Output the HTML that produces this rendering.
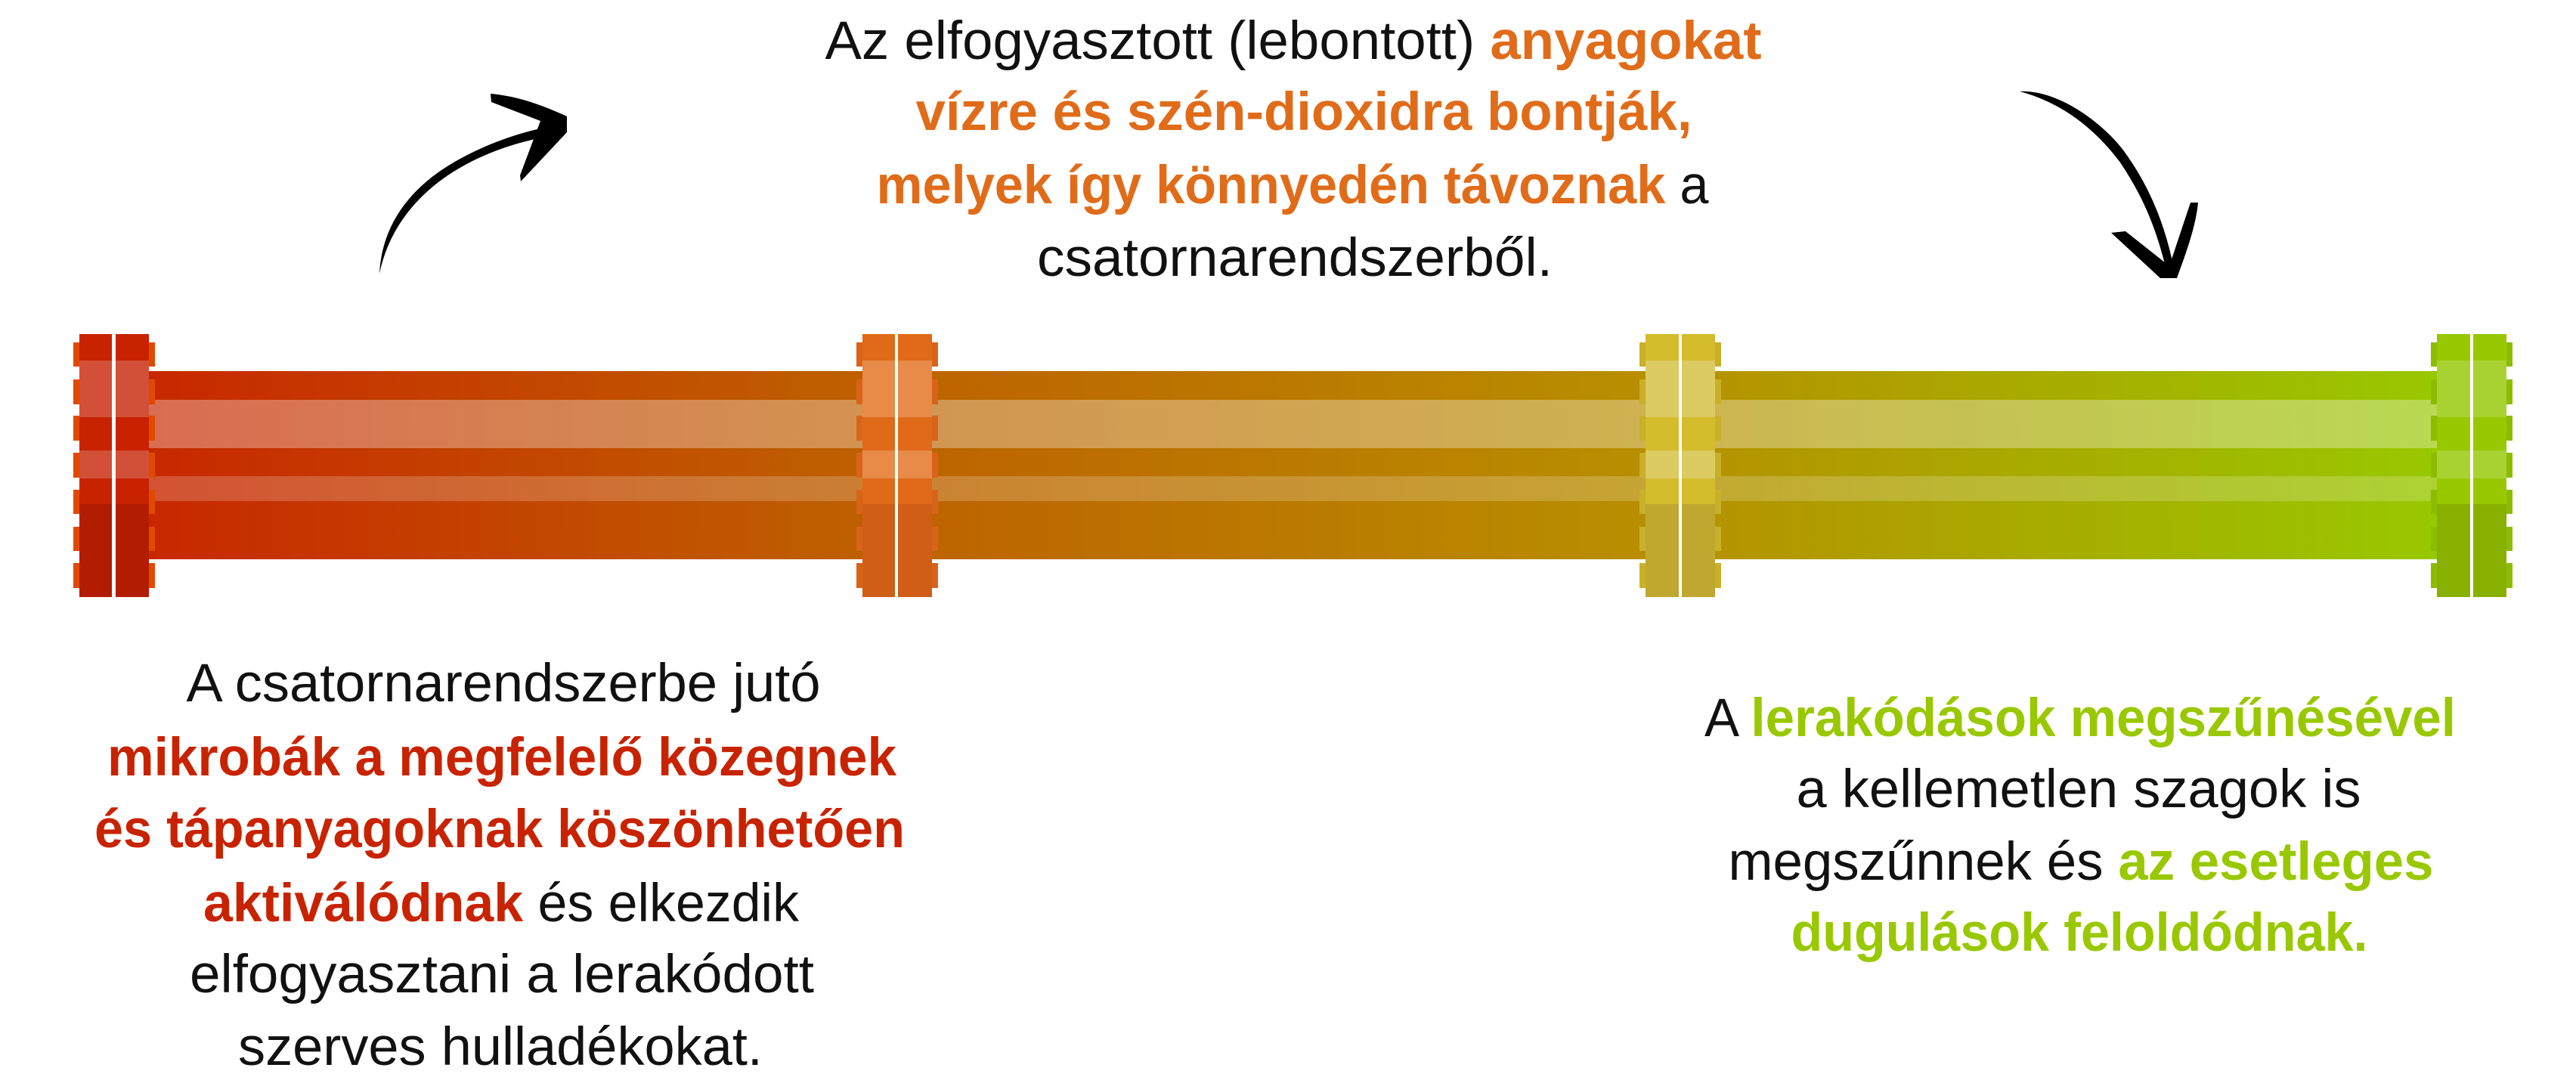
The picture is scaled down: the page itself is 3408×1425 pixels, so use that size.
<!DOCTYPE html>
<html><head><meta charset="utf-8"><style>
html,body{margin:0;padding:0;background:#fff;}
svg{display:block;}
text{font-family:"Liberation Sans",Arial,sans-serif;font-size:71px;fill:#111;}
.b{font-weight:bold;}
.o{fill:#e06c1a;font-weight:bold;}
.r{fill:#c82300;font-weight:bold;}
.g{fill:#99c800;font-weight:bold;}
</style></head><body>
<svg width="3408" height="1425" viewBox="0 0 3408 1425" xmlns="http://www.w3.org/2000/svg">
<defs>
<linearGradient id="pg" gradientUnits="userSpaceOnUse" x1="196" y1="0" x2="3224" y2="0">
<stop offset="0" stop-color="#c82800"/>
<stop offset="0.31" stop-color="#be6000"/>
<stop offset="0.65" stop-color="#b88e00"/>
<stop offset="1" stop-color="#98c800"/>
</linearGradient>
</defs>
<rect x="190" y="491" width="3040" height="249" fill="url(#pg)"/>
<rect x="190" y="529" width="3040" height="64" fill="#fff" opacity="0.32"/>
<rect x="190" y="630" width="3040" height="33" fill="#fff" opacity="0.2"/>

<g>
<g fill="#e04a00">
<rect x="97" y="453" width="8" height="32"/><rect x="97" y="502" width="8" height="33"/><rect x="97" y="550" width="8" height="33"/><rect x="97" y="599" width="8" height="33"/><rect x="97" y="648" width="8" height="32"/><rect x="97" y="697" width="8" height="32"/><rect x="97" y="745" width="8" height="33"/>
<rect x="197" y="453" width="8" height="32"/><rect x="197" y="502" width="8" height="33"/><rect x="197" y="550" width="8" height="33"/><rect x="197" y="599" width="8" height="33"/><rect x="197" y="648" width="8" height="32"/><rect x="197" y="697" width="8" height="32"/><rect x="197" y="745" width="8" height="33"/>
</g>
<rect x="105" y="442" width="92" height="348" fill="#c82200"/>
<rect x="105" y="477" width="92" height="75" fill="#d25038"/><rect x="105" y="596" width="92" height="37" fill="#d25038"/>
<rect x="105" y="667" width="92" height="123" fill="#b21c00"/>
<rect x="148" y="442" width="5" height="348" fill="#fff"/>
</g>
<g>
<g fill="#d8641a">
<rect x="1133" y="453" width="8" height="32"/><rect x="1133" y="502" width="8" height="33"/><rect x="1133" y="550" width="8" height="33"/><rect x="1133" y="599" width="8" height="33"/><rect x="1133" y="648" width="8" height="32"/><rect x="1133" y="697" width="8" height="32"/><rect x="1133" y="745" width="8" height="33"/>
<rect x="1233" y="453" width="8" height="32"/><rect x="1233" y="502" width="8" height="33"/><rect x="1233" y="550" width="8" height="33"/><rect x="1233" y="599" width="8" height="33"/><rect x="1233" y="648" width="8" height="32"/><rect x="1233" y="697" width="8" height="32"/><rect x="1233" y="745" width="8" height="33"/>
</g>
<rect x="1141" y="442" width="92" height="348" fill="#e06a18"/>
<rect x="1141" y="477" width="92" height="75" fill="#e88a48"/><rect x="1141" y="596" width="92" height="37" fill="#e88a48"/>
<rect x="1141" y="667" width="92" height="123" fill="#d05e16"/>
<rect x="1184" y="442" width="4" height="348" fill="#fff"/>
</g>
<g>
<g fill="#c8b02a">
<rect x="2169" y="453" width="8" height="32"/><rect x="2169" y="502" width="8" height="33"/><rect x="2169" y="550" width="8" height="33"/><rect x="2169" y="599" width="8" height="33"/><rect x="2169" y="648" width="8" height="32"/><rect x="2169" y="697" width="8" height="32"/><rect x="2169" y="745" width="8" height="33"/>
<rect x="2269" y="453" width="8" height="32"/><rect x="2269" y="502" width="8" height="33"/><rect x="2269" y="550" width="8" height="33"/><rect x="2269" y="599" width="8" height="33"/><rect x="2269" y="648" width="8" height="32"/><rect x="2269" y="697" width="8" height="32"/><rect x="2269" y="745" width="8" height="33"/>
</g>
<rect x="2177" y="442" width="92" height="348" fill="#d4bc2c"/>
<rect x="2177" y="477" width="92" height="75" fill="#dcca62"/><rect x="2177" y="596" width="92" height="37" fill="#dcca62"/>
<rect x="2177" y="667" width="92" height="123" fill="#c0a830"/>
<rect x="2221" y="442" width="4" height="348" fill="#fff"/>
</g>
<g>
<g fill="#8cbc00">
<rect x="3216" y="453" width="8" height="32"/><rect x="3216" y="502" width="8" height="33"/><rect x="3216" y="550" width="8" height="33"/><rect x="3216" y="599" width="8" height="33"/><rect x="3216" y="648" width="8" height="32"/><rect x="3216" y="697" width="8" height="32"/><rect x="3216" y="745" width="8" height="33"/>
<rect x="3316" y="453" width="8" height="32"/><rect x="3316" y="502" width="8" height="33"/><rect x="3316" y="550" width="8" height="33"/><rect x="3316" y="599" width="8" height="33"/><rect x="3316" y="648" width="8" height="32"/><rect x="3316" y="697" width="8" height="32"/><rect x="3316" y="745" width="8" height="33"/>
</g>
<rect x="3224" y="442" width="92" height="348" fill="#98c800"/>
<rect x="3224" y="477" width="92" height="75" fill="#a8d232"/><rect x="3224" y="596" width="92" height="37" fill="#a8d232"/>
<rect x="3224" y="667" width="92" height="123" fill="#88b000"/>
<rect x="3268" y="442" width="4" height="348" fill="#fff"/>
</g>

<path d="M502,362 C505,300 540,250 600,215 C650,186 700,172 735,166 L740,178 C700,184 655,196 612,220 C555,252 515,300 502,362 Z" fill="#000"/>
<path d="M649,124 L650,135 L715,160 L688,232 L689,240 L750,175 L750,154 C720,140 685,127 649,124 Z" fill="#000"/>
<path d="M2672,121 C2720,118 2780,160 2810,200 C2845,248 2865,300 2876,355 L2866,357 C2852,300 2835,260 2805,215 C2770,168 2725,135 2672,121 Z" fill="#000"/>
<path d="M2793,308 L2812,306 L2870,352 L2898,268 L2908,268 C2905,300 2892,335 2880,368 L2858,368 Z" fill="#000"/>

<text x="1711" y="78" text-anchor="middle" textLength="1239" lengthAdjust="spacingAndGlyphs">Az elfogyasztott (lebontott) <tspan class="o">anyagokat</tspan></text>
<text x="1725" y="172" text-anchor="middle" textLength="1027" lengthAdjust="spacingAndGlyphs" class="o">vízre és szén-dioxidra bontják,</text>
<text x="1710" y="269" text-anchor="middle" textLength="1101" lengthAdjust="spacingAndGlyphs"><tspan class="o">melyek így könnyedén távoznak</tspan> a</text>
<text x="1713" y="365" text-anchor="middle" textLength="682" lengthAdjust="spacingAndGlyphs">csatornarendszerből.</text>

<text x="666" y="928" text-anchor="middle" textLength="839" lengthAdjust="spacingAndGlyphs">A csatornarendszerbe jutó</text>
<text x="664" y="1026" text-anchor="middle" textLength="1044" lengthAdjust="spacingAndGlyphs" class="r">mikrobák a megfelelő közegnek</text>
<text x="661" y="1121" text-anchor="middle" textLength="1072" lengthAdjust="spacingAndGlyphs" class="r">és tápanyagoknak köszönhetően</text>
<text x="663" y="1219" text-anchor="middle" textLength="788" lengthAdjust="spacingAndGlyphs"><tspan class="r">aktiválódnak</tspan> és elkezdik</text>
<text x="664" y="1313" text-anchor="middle" textLength="826" lengthAdjust="spacingAndGlyphs">elfogyasztani a lerakódott</text>
<text x="662" y="1409" text-anchor="middle" textLength="694" lengthAdjust="spacingAndGlyphs">szerves hulladékokat.</text>

<text x="2752" y="974" text-anchor="middle" textLength="994" lengthAdjust="spacingAndGlyphs">A <tspan class="g">lerakódások megszűnésével</tspan></text>
<text x="2750" y="1068" text-anchor="middle" textLength="747" lengthAdjust="spacingAndGlyphs">a kellemetlen szagok is</text>
<text x="2753" y="1164" text-anchor="middle" textLength="933" lengthAdjust="spacingAndGlyphs">megszűnnek és <tspan class="g">az esetleges</tspan></text>
<text x="2751" y="1258" text-anchor="middle" textLength="763" lengthAdjust="spacingAndGlyphs" class="g">dugulások feloldódnak.</text>
</svg>
</body></html>
